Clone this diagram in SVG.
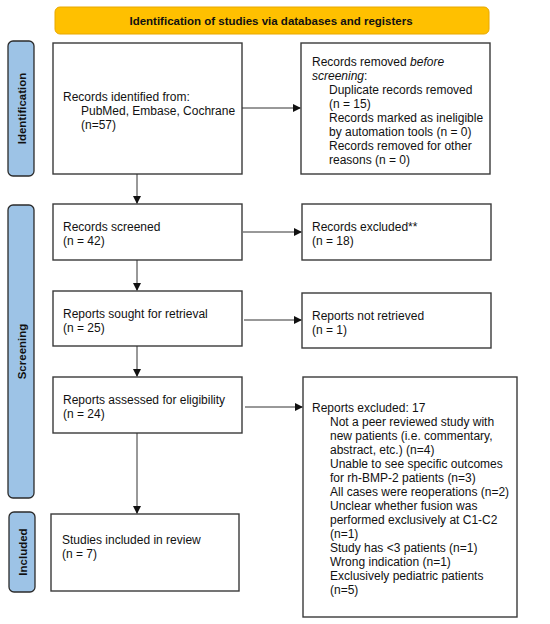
<svg xmlns="http://www.w3.org/2000/svg" width="550" height="624" viewBox="0 0 550 624">
<style>
.box{fill:#fff;stroke:#3a3a3a;stroke-width:1.4}
.side{fill:#9DC3E6;stroke:#2b2b2b;stroke-width:1.3}
.t{font-family:"Liberation Sans",Arial,sans-serif;font-size:12px;fill:#111}
.b{font-family:"Liberation Sans",Arial,sans-serif;font-size:11.5px;font-weight:bold;fill:#111}
.ln{stroke:#333;stroke-width:1;fill:none}
</style>
<defs>
<marker id="ah" markerWidth="8" markerHeight="8" refX="7" refY="4" orient="auto" markerUnits="userSpaceOnUse">
<path d="M0,0 L8,4 L0,8 z" fill="#111"/>
</marker>
</defs>
<rect width="550" height="624" fill="#fff"/>
<g id="header">
<rect x="55" y="7" width="434" height="27" rx="5" fill="#FFC000" stroke="#E8A800" stroke-width="1"/>
<text class="b" x="271" y="25" text-anchor="middle">Identification of studies via databases and registers</text>
</g>
<g id="side-identification">
<rect class="side" x="8" y="41" width="26" height="135" rx="5"/>
<text class="b" transform="translate(25.5,108.5) rotate(-90)" text-anchor="middle">Identification</text>
</g>
<g id="side-screening">
<rect class="side" x="8" y="205" width="26" height="293" rx="5"/>
<text class="b" transform="translate(25.5,351.5) rotate(-90)" text-anchor="middle">Screening</text>
</g>
<g id="side-included">
<rect class="side" x="9" y="512" width="26" height="80" rx="5"/>
<text class="b" transform="translate(26.5,552) rotate(-90)" text-anchor="middle">Included</text>
</g>
<g id="identified">
<rect class="box" x="53" y="43" width="189" height="131"/>
<text class="t" x="63" y="101">Records identified from:</text>
<text class="t" x="81" y="115">PubMed, Embase, Cochrane</text>
<text class="t" x="81" y="129">(n=57)</text>
</g>
<g id="removed">
<rect class="box" x="301" y="43" width="189" height="131"/>
<text class="t" x="312" y="66">Records removed <tspan font-style="italic">before</tspan></text>
<text class="t" x="312" y="80"><tspan font-style="italic">screening</tspan>:</text>
<text class="t" x="329" y="94">Duplicate records removed</text>
<text class="t" x="329" y="108">(n = 15)</text>
<text class="t" x="329" y="122">Records marked as ineligible</text>
<text class="t" x="329" y="136">by automation tools (n = 0)</text>
<text class="t" x="329" y="150">Records removed for other</text>
<text class="t" x="329" y="164">reasons (n = 0)</text>
</g>
<g id="screened">
<rect class="box" x="53" y="204" width="189" height="56"/>
<text class="t" x="63" y="231">Records screened</text>
<text class="t" x="63" y="245">(n = 42)</text>
</g>
<g id="excluded">
<rect class="box" x="302" y="204" width="189" height="56"/>
<text class="t" x="312" y="231">Records excluded**</text>
<text class="t" x="312" y="245">(n = 18)</text>
</g>
<g id="sought">
<rect class="box" x="53" y="291" width="189" height="55"/>
<text class="t" x="63" y="318">Reports sought for retrieval</text>
<text class="t" x="63" y="332">(n = 25)</text>
</g>
<g id="notretrieved">
<rect class="box" x="302" y="293" width="189" height="55"/>
<text class="t" x="312" y="320">Reports not retrieved</text>
<text class="t" x="312" y="334">(n = 1)</text>
</g>
<g id="assessed">
<rect class="box" x="53" y="377" width="189" height="56"/>
<text class="t" x="63" y="404">Reports assessed for eligibility</text>
<text class="t" x="63" y="418">(n = 24)</text>
</g>
<g id="reportsexcluded">
<rect class="box" x="303" y="377" width="214" height="240"/>
<text class="t" x="312" y="412">Reports excluded: 17</text>
<text class="t" x="330" y="426">Not a peer reviewed study with</text>
<text class="t" x="330" y="440">new patients (i.e. commentary,</text>
<text class="t" x="330" y="454">abstract, etc.) (n=4)</text>
<text class="t" x="330" y="468">Unable to see specific outcomes</text>
<text class="t" x="330" y="482">for rh-BMP-2 patients (n=3)</text>
<text class="t" x="330" y="496">All cases were reoperations (n=2)</text>
<text class="t" x="330" y="510">Unclear whether fusion was</text>
<text class="t" x="330" y="524">performed exclusively at C1-C2</text>
<text class="t" x="330" y="538">(n=1)</text>
<text class="t" x="330" y="552">Study has &lt;3 patients (n=1)</text>
<text class="t" x="330" y="566">Wrong indication (n=1)</text>
<text class="t" x="330" y="580">Exclusively pediatric patients</text>
<text class="t" x="330" y="594">(n=5)</text>
</g>
<g id="included">
<rect class="box" x="51" y="514" width="188" height="77"/>
<text class="t" x="62" y="544">Studies included in review</text>
<text class="t" x="62" y="558">(n = 7)</text>
</g>
<g id="connectors">
<line class="ln" x1="242" y1="108" x2="300" y2="108" marker-end="url(#ah)"/>
<line class="ln" x1="137" y1="174" x2="137" y2="203" marker-end="url(#ah)"/>
<line class="ln" x1="243" y1="232" x2="301" y2="232" marker-end="url(#ah)"/>
<line class="ln" x1="137" y1="260" x2="137" y2="290" marker-end="url(#ah)"/>
<line class="ln" x1="244" y1="320" x2="301" y2="320" marker-end="url(#ah)"/>
<line class="ln" x1="137" y1="346" x2="137" y2="376" marker-end="url(#ah)"/>
<line class="ln" x1="245" y1="407" x2="302" y2="407" marker-end="url(#ah)"/>
<line class="ln" x1="137" y1="433" x2="137" y2="513" marker-end="url(#ah)"/>
</g>
</svg>
